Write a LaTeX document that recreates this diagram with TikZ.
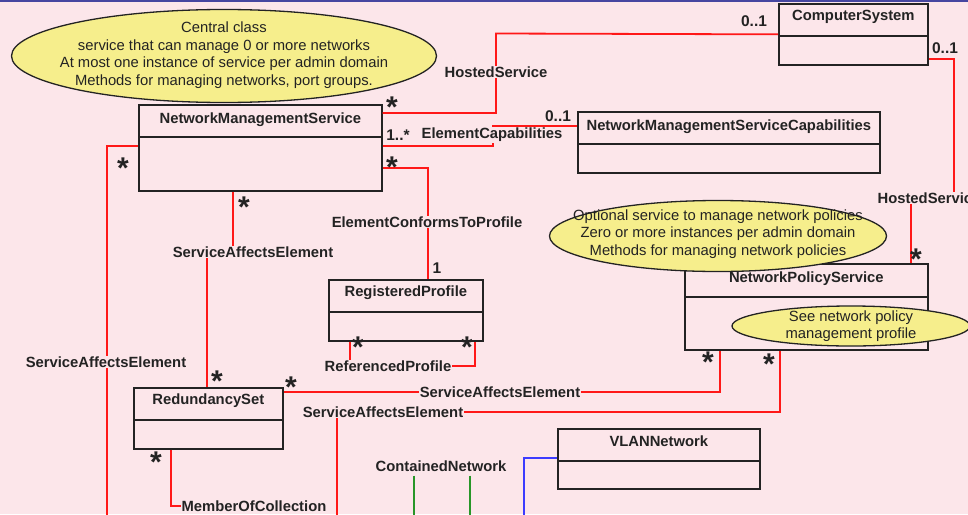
\documentclass[tikz,border=0pt]{standalone}
\usepackage{fontspec}
\setmainfont{Liberation Sans}
\usetikzlibrary{shapes.geometric}

\definecolor{bg}{RGB}{252,230,234}
\definecolor{assocred}{RGB}{255,24,24}
\definecolor{notefill}{RGB}{246,238,140}
\definecolor{ink}{RGB}{35,35,35}
\definecolor{frame}{RGB}{70,70,160}
\definecolor{netgreen}{RGB}{40,150,40}
\definecolor{netblue}{RGB}{60,60,255}

\begin{document}
\begin{tikzpicture}[x=1pt,y=-1pt,
  classbox/.style={draw=ink, line width=1.7pt, anchor=north west, inner sep=0pt},
  ctitle/.style={font=\bfseries\fontsize{14.8}{16}\selectfont, text=ink, inner sep=0pt},
  divider/.style={draw=ink, line width=1.7pt},
  assoc/.style={draw=assocred, line width=1.8pt},
  lbl/.style={font=\bfseries\fontsize{14.8}{16}\selectfont, text=ink, fill=bg, inner sep=1pt},
  mult/.style={font=\bfseries\fontsize{15.5}{16}\selectfont, text=ink, inner sep=0pt},
  star/.style={font=\bfseries\fontsize{30}{30}\selectfont, text=ink, inner sep=0pt, anchor=north},
  note/.style={ellipse, draw=ink, line width=1.3pt, fill=notefill, inner sep=0pt},
  notetext/.style={align=center, text=ink, inner sep=0pt, font=\fontsize{14.8}{17.5}\selectfont},
]
% canvas
\path[use as bounding box] (0,0) rectangle (968,514);
\clip (0,0) rectangle (968,514);
\fill[bg] (0,0) rectangle (968,514);
\fill[frame] (0,0) rectangle (968,2);

% classes
\node[classbox, minimum width=243, minimum height=86] (nms) at (138,104) {};
\node[ctitle] at ([yshift=-16pt]nms.north) {NetworkManagementService};
\draw[divider] ([yshift=-33pt]nms.north west) -- ([yshift=-33pt]nms.north east);

\node[classbox, minimum width=149, minimum height=61] (cs) at (778,3) {};
\node[ctitle] at ([yshift=-14pt]cs.north) {ComputerSystem};
\draw[divider] ([yshift=-33pt]cs.north west) -- ([yshift=-33pt]cs.north east);

\node[classbox, minimum width=302, minimum height=61] (cap) at (577,111) {};
\node[ctitle] at ([yshift=-16pt]cap.north) {NetworkManagementServiceCapabilities};
\draw[divider] ([yshift=-33pt]cap.north west) -- ([yshift=-33pt]cap.north east);

\node[classbox, minimum width=154, minimum height=61] (rp) at (328,279) {};
\node[ctitle] at ([yshift=-14pt]rp.north) {RegisteredProfile};
\draw[divider] ([yshift=-33pt]rp.north west) -- ([yshift=-33pt]rp.north east);

\node[classbox, minimum width=149, minimum height=61] (rs) at (133,387) {};
\node[ctitle] at ([yshift=-14pt]rs.north) {RedundancySet};
\draw[divider] ([yshift=-33pt]rs.north west) -- ([yshift=-33pt]rs.north east);

\node[classbox, minimum width=243, minimum height=86] (nps) at (684,263) {};
\node[ctitle] at ([yshift=-16pt]nps.north) {NetworkPolicyService};
\draw[divider] ([yshift=-34pt]nps.north west) -- ([yshift=-34pt]nps.north east);

\node[classbox, minimum width=202, minimum height=60] (vlan) at (557,428) {};
\node[ctitle] at ([yshift=-13pt]vlan.north) {VLANNetwork};
\draw[divider] ([yshift=-33pt]vlan.north west) -- ([yshift=-33pt]vlan.north east);

% associations
\coordinate (hsbend) at (496,33.5);
\draw[assoc] ([yshift=-9pt]nms.north east) -| (hsbend) -- (cs.west);

\coordinate (capbend) at (493,126);
\draw[assoc] ([yshift=-42pt]nms.north east) -| (capbend) -- ([yshift=-15pt]cap.north west);

\draw[assoc] ([yshift=-64pt]nms.north east) -| ([xshift=100pt]rp.north west);

\coordinate (saemid) at (220,252);
\draw[assoc] ([xshift=95pt]nms.south west) |- (saemid) -| ([xshift=74pt]rs.north west);

\coordinate (leftend) at (107,520);
\draw[assoc] ([yshift=-42pt]nms.north west) -| (leftend);

\draw[assoc] ([yshift=-5pt]rs.north east) -| ([xshift=36pt]nps.south west);

\coordinate (lowbend) at (337,412);
\coordinate (lowend) at (337,520);
\draw[assoc] ([xshift=96pt]nps.south west) |- (lowbend) -- (lowend);

\coordinate (mocend) at (253,506);
\draw[assoc] ([xshift=38pt]rs.south west) |- (mocend);

\coordinate (refmid) at (410,366);
\draw[assoc] ([xshift=22pt]rp.south west) |- (refmid) -| ([xshift=-9pt]rp.south east);

\coordinate (hs2a) at (954,198);
\draw[assoc] ([yshift=7pt]cs.south east) -| (hs2a) -| ([xshift=-18pt]nps.north east);

\coordinate (blueend) at (524,520);
\draw[netblue, line width=1.4pt] ([yshift=-30pt]vlan.north west) -| (blueend);

% notes
\node[note, minimum width=425, minimum height=93] (n1) at (224,56) {};
\node[notetext] at ([yshift=1pt]n1.center)
  {Central class\\service that can manage 0 or more networks\\At most one instance of service per admin domain\\Methods for managing networks, port groups.};
\node[note, minimum width=337, minimum height=71] (n2) at (718,236) {};
\node[notetext] at ([yshift=2pt]n2.center)
  {Optional service to manage network policies\\Zero or more instances per admin domain\\Methods for managing network policies};
\node[note, minimum width=238, minimum height=40] (n3) at (851,326) {};
\node[notetext] at (n3.center) {See network policy\\management profile};

% association names
\node[lbl] at (496,72) {HostedService};
\node[lbl] at (492,135) {ElementCapabilities};
\node[lbl] at (427,222) {ElementConformsToProfile};
\node[lbl] at (253,252) {ServiceAffectsElement};
\node[lbl] at (106,362) {ServiceAffectsElement};
\node[lbl] at (500,392) {ServiceAffectsElement};
\node[lbl] at (383,412) {ServiceAffectsElement};
\node[lbl] at (254,506) {MemberOfCollection};
\node[lbl] at (388,366) {ReferencedProfile};
\node[lbl] at (929,198) {HostedService};
\node[lbl] (cn) at (441,466) {ContainedNetwork};
\draw[netgreen, line width=1.4pt] ([xshift=-27pt,yshift=-3pt]cn.south) -- ++(0,50);
\draw[netgreen, line width=1.4pt] ([xshift=29pt,yshift=-3pt]cn.south) -- ++(0,50);

% multiplicities
\node[mult] at (754,21) {0..1};
\node[mult] at (945,48) {0..1};
\node[mult] at (558,116) {0..1};
\node[mult] at (398,135) {1..*};
\node[mult] at (437,268) {1};
\node[star] at (392,97) {*};
\node[star] at (392,157) {*};
\node[star] at (123,158) {*};
\node[star] at (244,197) {*};
\node[star] at (358,337) {*};
\node[star] at (467,337) {*};
\node[star] at (217,371) {*};
\node[star] at (291,377) {*};
\node[star] at (156,452) {*};
\node[star] at (708,352) {*};
\node[star] at (769,354) {*};
\node[star] at (916,249) {*};
\end{tikzpicture}
\end{document}
